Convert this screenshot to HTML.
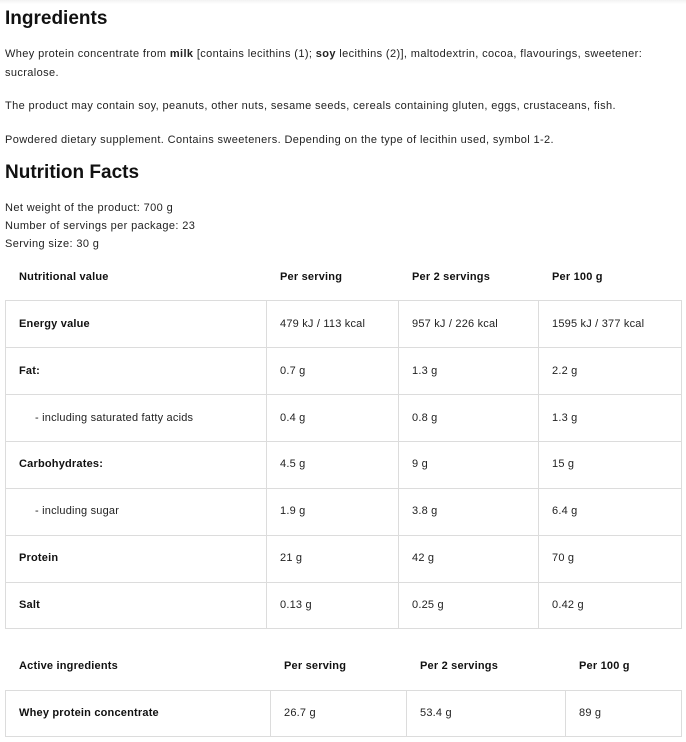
<!DOCTYPE html>
<html><head><meta charset="utf-8"><style>
body{margin:0;width:686px;height:742px;background:#fff;position:relative;overflow:hidden;font-family:"Liberation Sans",sans-serif;color:#222;}
.t{position:absolute;white-space:nowrap;font-size:11px;line-height:14px;margin-top:1px;letter-spacing:0.2px;}
.p{letter-spacing:0.38px;}
.h{position:absolute;font-weight:bold;font-size:19px;color:#111;white-space:nowrap;}
.b{font-weight:bold;color:#111;}
.l{position:absolute;background:#dcdcdc;}
</style></head><body>
<div style="position:absolute;left:0;top:0;width:686px;height:4px;background:linear-gradient(#f2f2f2,#fff)"></div>
<div class="h" style="left:5px;top:8px">Ingredients</div>
<div class="t p" style="left:5px;top:46px">Whey protein concentrate from <b>milk</b> [contains lecithins (1); <b>soy</b> lecithins (2)], maltodextrin, cocoa, flavourings, sweetener:</div>
<div class="t p" style="left:5px;top:65px">sucralose.</div>
<div class="t p" style="left:5px;top:98px">The product may contain soy, peanuts, other nuts, sesame seeds, cereals containing gluten, eggs, crustaceans, fish.</div>
<div class="t p" style="left:5px;top:132px">Powdered dietary supplement. Contains sweeteners. Depending on the type of lecithin used, symbol 1-2.</div>
<div class="h" style="left:5px;top:162px">Nutrition Facts</div>
<div class="t p" style="left:5px;top:200px">Net weight of the product: 700 g</div>
<div class="t p" style="left:5px;top:218px">Number of servings per package: 23</div>
<div class="t p" style="left:5px;top:236px">Serving size: 30 g</div>

<div class="t b" style="left:19px;top:269px">Nutritional value</div>
<div class="t b" style="left:280px;top:269px">Per serving</div>
<div class="t b" style="left:412px;top:269px">Per 2 servings</div>
<div class="t b" style="left:552px;top:269px">Per 100 g</div>

<div class="l" style="left:5px;top:300px;width:677px;height:1px"></div>
<div class="l" style="left:5px;top:347px;width:677px;height:1px"></div>
<div class="l" style="left:5px;top:394px;width:677px;height:1px"></div>
<div class="l" style="left:5px;top:441px;width:677px;height:1px"></div>
<div class="l" style="left:5px;top:488px;width:677px;height:1px"></div>
<div class="l" style="left:5px;top:535px;width:677px;height:1px"></div>
<div class="l" style="left:5px;top:582px;width:677px;height:1px"></div>
<div class="l" style="left:5px;top:628px;width:677px;height:1px"></div>
<div class="l" style="left:5px;top:300px;width:1px;height:329px"></div>
<div class="l" style="left:266px;top:300px;width:1px;height:329px"></div>
<div class="l" style="left:398px;top:300px;width:1px;height:329px"></div>
<div class="l" style="left:538px;top:300px;width:1px;height:329px"></div>
<div class="l" style="left:681px;top:300px;width:1px;height:329px"></div>

<div class="t b" style="left:19px;top:316px">Energy value</div>
<div class="t" style="left:280px;top:316px">479 kJ / 113 kcal</div>
<div class="t" style="left:412px;top:316px">957 kJ / 226 kcal</div>
<div class="t" style="left:552px;top:316px">1595 kJ / 377 kcal</div>

<div class="t b" style="left:19px;top:363px">Fat:</div>
<div class="t" style="left:280px;top:363px">0.7 g</div>
<div class="t" style="left:412px;top:363px">1.3 g</div>
<div class="t" style="left:552px;top:363px">2.2 g</div>

<div class="t" style="left:35px;top:410px">- including saturated fatty acids</div>
<div class="t" style="left:280px;top:410px">0.4 g</div>
<div class="t" style="left:412px;top:410px">0.8 g</div>
<div class="t" style="left:552px;top:410px">1.3 g</div>

<div class="t b" style="left:19px;top:456px">Carbohydrates:</div>
<div class="t" style="left:280px;top:456px">4.5 g</div>
<div class="t" style="left:412px;top:456px">9 g</div>
<div class="t" style="left:552px;top:456px">15 g</div>

<div class="t" style="left:35px;top:503px">- including sugar</div>
<div class="t" style="left:280px;top:503px">1.9 g</div>
<div class="t" style="left:412px;top:503px">3.8 g</div>
<div class="t" style="left:552px;top:503px">6.4 g</div>

<div class="t b" style="left:19px;top:550px">Protein</div>
<div class="t" style="left:280px;top:550px">21 g</div>
<div class="t" style="left:412px;top:550px">42 g</div>
<div class="t" style="left:552px;top:550px">70 g</div>

<div class="t b" style="left:19px;top:597px">Salt</div>
<div class="t" style="left:280px;top:597px">0.13 g</div>
<div class="t" style="left:412px;top:597px">0.25 g</div>
<div class="t" style="left:552px;top:597px">0.42 g</div>

<div class="t b" style="left:19px;top:658px">Active ingredients</div>
<div class="t b" style="left:284px;top:658px">Per serving</div>
<div class="t b" style="left:420px;top:658px">Per 2 servings</div>
<div class="t b" style="left:579px;top:658px">Per 100 g</div>

<div class="l" style="left:5px;top:690px;width:677px;height:1px"></div>
<div class="l" style="left:5px;top:736px;width:677px;height:1px"></div>
<div class="l" style="left:5px;top:690px;width:1px;height:47px"></div>
<div class="l" style="left:270px;top:690px;width:1px;height:47px"></div>
<div class="l" style="left:406px;top:690px;width:1px;height:47px"></div>
<div class="l" style="left:565px;top:690px;width:1px;height:47px"></div>
<div class="l" style="left:681px;top:690px;width:1px;height:47px"></div>

<div class="t b" style="left:19px;top:705px">Whey protein concentrate</div>
<div class="t" style="left:284px;top:705px">26.7 g</div>
<div class="t" style="left:420px;top:705px">53.4 g</div>
<div class="t" style="left:579px;top:705px">89 g</div>
</body></html>
